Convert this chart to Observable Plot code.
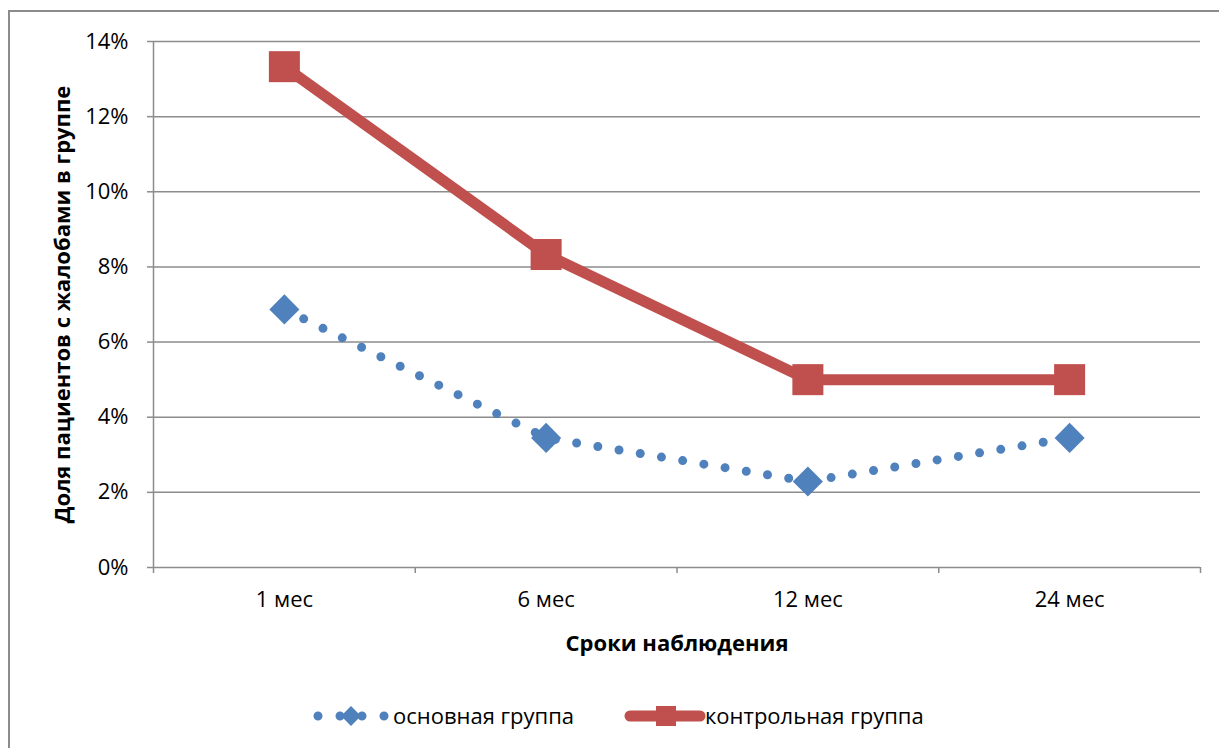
<!DOCTYPE html>
<html>
<head>
<meta charset="utf-8">
<script src="https://cdn.jsdelivr.net/npm/d3@7"></script>
<script src="https://cdn.jsdelivr.net/npm/@observablehq/plot@0.6"></script>
<style>
  html, body { margin: 0; padding: 0; background: #fff; }
  #wrap { position: relative; width: 1219px; height: 748px; overflow: hidden; font-family: "Open Sans", "Noto Sans", sans-serif; }
  #border { position: absolute; left: 8px; top: 10px; width: 1240px; height: 780px; border: 2px solid #8c8c8c; box-sizing: border-box; }
  #chart { position: absolute; left: 0; top: 0; }
  .leg { position: absolute; font-size: 22px; color: #000; line-height: 26px; white-space: nowrap; }
  .sw { position: absolute; }
</style>
</head>
<body>
<div id="wrap">
  <div id="border"></div>
  <div id="chart"></div>
</div>
<script>
const categories = ["1 мес", "6 мес", "12 мес", "24 мес"];
const mainGroup = [0.0687, 0.0345, 0.0229, 0.0345];
const controlGroup = [0.1333, 0.0833, 0.0500, 0.0500];
const yTicks = [0, 0.02, 0.04, 0.06, 0.08, 0.10, 0.12, 0.14];
const seriesNames = ["основная группа", "контрольная группа"];
const xTitle = "Сроки наблюдения";
const yTitle = "Доля пациентов с жалобами в группе";

const blue = "#4F81BD";
const red = "#C0504D";
const gray = "#8c8c8c";

const mainData = categories.map((c, i) => ({pos: i + 0.5, value: mainGroup[i]}));
const controlData = categories.map((c, i) => ({pos: i + 0.5, value: controlGroup[i]}));
const bounds = d3.range(categories.length + 1);
const centers = categories.map((c, i) => i + 0.5);

const fontFamily = "'Open Sans', 'Noto Sans', sans-serif";

const chart = Plot.plot({
  width: 1219,
  height: 660,
  marginLeft: 153,
  marginRight: 19,
  marginTop: 41,
  marginBottom: 93,
  style: {fontFamily, fontSize: "22px", color: "#000", background: "transparent", overflow: "visible"},
  x: {domain: [0, categories.length]},
  y: {domain: [0, 0.14]},
  marks: [
    Plot.gridY(yTicks.slice(1), {stroke: gray, strokeOpacity: 1, strokeWidth: 1.5}),
    Plot.axisY(yTicks, {tickFormat: d3.format(".0%"), tickSize: 6, tickPadding: 19, stroke: gray, strokeWidth: 1.5, fill: "#000", fontSize: 22, label: null}),
    Plot.axisX(bounds, {tickFormat: () => "", tickSize: 6, stroke: gray, strokeWidth: 1.5, label: null}),
    Plot.axisX(centers, {tickFormat: d => categories[Math.floor(d)], tickSize: 0, tickPadding: 24, fill: "#000", fontSize: 22, label: null}),
    Plot.ruleX([0], {stroke: gray, strokeWidth: 1.5}),
    Plot.ruleY([0], {stroke: gray, strokeWidth: 1.5}),
    Plot.line(controlData, {x: "pos", y: "value", stroke: red, strokeWidth: 11}),
    Plot.dot(controlData, {x: "pos", y: "value", symbol: "square", r: 17.5, fill: red, stroke: "none"}),
    Plot.line(mainData, {x: "pos", y: "value", stroke: blue, strokeWidth: 9, strokeDasharray: "0 21.5", strokeLinecap: "round"}),
    Plot.dot(mainData, {x: "pos", y: "value", symbol: "square", r: 12, rotate: 45, fill: blue, stroke: "none"}),
    Plot.text([xTitle], {frameAnchor: "bottom", lineAnchor: "middle", textAnchor: "middle", dy: 76, fontWeight: "bold", fontSize: 22, fill: "#000"}),
    Plot.text([yTitle], {frameAnchor: "left", lineAnchor: "middle", textAnchor: "middle", rotate: -90, dx: -91, fontWeight: "bold", fontSize: 22, fill: "#000"})
  ]
});
document.getElementById("chart").appendChild(chart);

// Legend below the plot
const wrap = document.getElementById("wrap");
function swatch(left, top, w, h, draw) {
  const svg = d3.create("svg").attr("class", "sw").attr("width", w).attr("height", h)
    .style("left", left + "px").style("top", top + "px");
  draw(svg);
  wrap.appendChild(svg.node());
}
swatch(310, 704, 84, 24, svg => {
  svg.append("line").attr("x1", 8).attr("x2", 76).attr("y1", 12).attr("y2", 12)
    .attr("stroke", blue).attr("stroke-width", 9).attr("stroke-linecap", "round").attr("stroke-dasharray", "0 22");
  svg.append("rect").attr("x", -7).attr("y", -7).attr("width", 14).attr("height", 14)
    .attr("fill", blue).attr("transform", "translate(41,12) rotate(45)");
});
const l1 = document.createElement("div");
l1.className = "leg"; l1.textContent = seriesNames[0];
l1.style.left = "393px"; l1.style.top = "702px";
wrap.appendChild(l1);

swatch(622, 702, 86, 28, svg => {
  svg.append("line").attr("x1", 8).attr("x2", 78).attr("y1", 14).attr("y2", 14)
    .attr("stroke", red).attr("stroke-width", 11).attr("stroke-linecap", "round");
  svg.append("rect").attr("x", 34).attr("y", 4).attr("width", 20).attr("height", 20).attr("fill", red);
});
const l2 = document.createElement("div");
l2.className = "leg"; l2.textContent = seriesNames[1];
l2.style.left = "705px"; l2.style.top = "702px";
wrap.appendChild(l2);
</script>
</body>
</html>
